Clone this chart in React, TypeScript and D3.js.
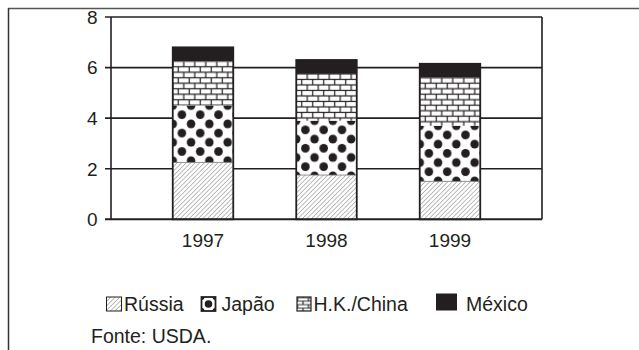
import React from "react";
import * as d3 from "d3";

const years = ["1997", "1998", "1999"];
const russia = [2.25, 1.75, 1.5];
const japao = [2.25, 2.15, 2.2];
const hkChina = [1.75, 1.85, 1.9];
const mexico = [0.55, 0.55, 0.55];
const seriesKeys = ["russia", "japao", "hk", "mexico"];
const seriesNames = ["Rússia", "Japão", "H.K./China", "México"];
const yTicks = [0, 2, 4, 6, 8];
const sourceNote = "Fonte: USDA.";

const INK = "#231f20";
const W = 639;
const H = 350;
const plot = { left: 111, right: 542, top: 17, bottom: 219.3 };
const FONT = "'Liberation Sans', Arial, Helvetica, sans-serif";

export default function App() {
  const rows = years.map((y, i) => ({
    year: y,
    russia: russia[i],
    japao: japao[i],
    hk: hkChina[i],
    mexico: mexico[i],
  }));
  const stack = d3.stack<any>().keys(seriesKeys);
  const layers = stack(rows);

  const x = d3
    .scaleBand<string>()
    .domain(years)
    .range([plot.left, plot.right])
    .paddingInner(0.51)
    .paddingOuter(0.5);
  const y = d3.scaleLinear().domain([0, 8]).range([plot.bottom, plot.top]);
  const bw = x.bandwidth();

  const dotW = 18.3;
  const dotH = 18.4;
  const brickW = 11;
  const brickH = 11;

  const fillFor = (key: string, i: number) => {
    if (key === "russia") return "url(#hatch)";
    if (key === "japao") return `url(#dots-${i})`;
    if (key === "hk") return `url(#bricks-${i})`;
    return INK;
  };

  const brickContent = (
    <>
      <rect width={brickW} height={brickH} fill={INK} />
      <rect x={0.6} y={0.6} width={9.8} height={4.3} fill="#fff" />
      <rect x={-4.9} y={6.1} width={9.8} height={4.3} fill="#fff" />
      <rect x={6.1} y={6.1} width={9.8} height={4.3} fill="#fff" />
    </>
  );

  const legendItems = [
    { swatchX: 106.5, textX: 124 },
    { swatchX: 201.5, textX: 221.5 },
    { swatchX: 297, textX: 313.5 },
    { swatchX: 436, textX: 466 },
  ];
  const legendBase = 310.5;

  return (
    <svg
      width={W}
      height={H}
      style={{ position: "absolute", left: 0, top: 0, background: "#fff" }}
      fontFamily={FONT}
    >
      <defs>
        <pattern
          id="hatch"
          width={3.2}
          height={3.2}
          patternUnits="userSpaceOnUse"
          patternTransform="rotate(45)"
        >
          <rect width={3.2} height={3.2} fill="#fff" />
          <line x1={0} y1={0} x2={0} y2={3.2} stroke="#6d6d6d" strokeWidth={0.9} />
        </pattern>
        {years.map((yr, i) => {
          const jTop = y(layers[1][i][1]);
          const hTop = y(layers[2][i][1]);
          return (
            <React.Fragment key={yr}>
              <pattern
                id={`dots-${i}`}
                x={x(yr)}
                y={jTop}
                width={dotW}
                height={dotH}
                patternUnits="userSpaceOnUse"
              >
                <rect width={dotW} height={dotH} fill="#fff" />
                <circle cx={0} cy={0} r={4.3} fill={INK} />
                <circle cx={dotW} cy={0} r={4.3} fill={INK} />
                <circle cx={0} cy={dotH} r={4.3} fill={INK} />
                <circle cx={dotW} cy={dotH} r={4.3} fill={INK} />
                <circle cx={dotW / 2} cy={dotH / 2} r={4.3} fill={INK} />
              </pattern>
              <pattern
                id={`bricks-${i}`}
                x={x(yr)}
                y={hTop}
                width={brickW}
                height={brickH}
                patternUnits="userSpaceOnUse"
              >
                {brickContent}
              </pattern>
            </React.Fragment>
          );
        })}
        <pattern
          id="bricks-legend"
          x={297.5}
          y={297.5}
          width={brickW}
          height={7}
          patternUnits="userSpaceOnUse"
        >
          <rect width={brickW} height={7} fill={INK} />
          <rect x={0.6} y={0.6} width={9.8} height={2.6} fill="#fff" />
          <rect x={-4.9} y={4.1} width={9.8} height={2.6} fill="#fff" />
          <rect x={6.1} y={4.1} width={9.8} height={2.6} fill="#fff" />
        </pattern>
        <clipPath id="japao-clip">
          <rect x={legendItems[1].swatchX} y={297} width={14} height={14} />
        </clipPath>
      </defs>

      {/* frame */}
      <line x1={8} x2={W} y1={8.5} y2={8.5} stroke="#555" strokeWidth={1.5} />
      <line x1={8.5} x2={8.5} y1={8} y2={H} stroke="#333" strokeWidth={1.5} />

      {/* gridlines */}
      {yTicks.map((t) => (
        <line
          key={t}
          x1={plot.left - 6}
          x2={plot.right}
          y1={y(t)}
          y2={y(t)}
          stroke={INK}
          strokeWidth={1.6}
        />
      ))}
      {/* axes */}
      <line x1={plot.left} x2={plot.left} y1={y(8)} y2={y(0)} stroke={INK} strokeWidth={1.6} />
      <line x1={plot.right} x2={plot.right} y1={y(8)} y2={y(0)} stroke={INK} strokeWidth={1.6} />

      {/* y tick labels */}
      {yTicks.map((t) => (
        <text
          key={t}
          x={97.5}
          y={y(t)}
          dy="0.36em"
          textAnchor="end"
          fontSize={19}
          fill={INK}
        >
          {t}
        </text>
      ))}

      {/* bars */}
      {years.map((yr, i) => (
        <g key={yr}>
          {layers.map((layer) => (
            <rect
              key={layer.key}
              x={x(yr)}
              y={y(layer[i][1])}
              width={bw}
              height={y(layer[i][0]) - y(layer[i][1])}
              fill={fillFor(layer.key as string, i)}
            />
          ))}
          <line
            x1={x(yr)}
            x2={(x(yr) as number) + bw}
            y1={y(layers[0][i][1])}
            y2={y(layers[0][i][1])}
            stroke="#777"
            strokeWidth={0.8}
          />
          <rect
            x={x(yr)}
            y={y(layers[3][i][1])}
            width={bw}
            height={y(0) - y(layers[3][i][1])}
            fill="none"
            stroke={INK}
            strokeWidth={1.8}
          />
        </g>
      ))}
      {/* baseline */}
      <line x1={plot.left - 6} x2={plot.right} y1={y(0)} y2={y(0)} stroke={INK} strokeWidth={1.8} />

      {/* x labels */}
      {years.map((yr) => (
        <text
          key={yr}
          x={(x(yr) as number) + bw / 2}
          y={246.5}
          textAnchor="middle"
          fontSize={19}
          fill={INK}
        >
          {yr}
        </text>
      ))}

      {/* legend */}
      <rect
        x={legendItems[0].swatchX}
        y={297}
        width={15}
        height={14}
        fill="url(#hatch)"
        stroke={INK}
        strokeWidth={1}
      />
      <g>
        <rect
          x={legendItems[1].swatchX}
          y={297}
          width={14}
          height={14}
          fill="#fff"
        />
        <g clipPath="url(#japao-clip)" fill={INK}>
          <circle cx={legendItems[1].swatchX + 7} cy={304} r={3.8} />
          <circle cx={legendItems[1].swatchX} cy={297} r={3} />
          <circle cx={legendItems[1].swatchX + 14} cy={297} r={3} />
          <circle cx={legendItems[1].swatchX} cy={311} r={3} />
          <circle cx={legendItems[1].swatchX + 14} cy={311} r={3} />
        </g>
        <rect
          x={legendItems[1].swatchX}
          y={297}
          width={14}
          height={14}
          fill="none"
          stroke={INK}
          strokeWidth={1.8}
        />
      </g>
      <rect
        x={legendItems[2].swatchX}
        y={297}
        width={14}
        height={14}
        fill="url(#bricks-legend)"
        stroke={INK}
        strokeWidth={1.2}
      />
      <rect x={legendItems[3].swatchX} y={293.5} width={21} height={17} fill={INK} />
      {seriesNames.map((name, i) => (
        <text
          key={name}
          x={legendItems[i].textX}
          y={legendBase}
          fontSize={19.5}
          fill={INK}
        >
          {name}
        </text>
      ))}

      <text x={91} y={343} fontSize={19.5} fill={INK}>
        {sourceNote}
      </text>
    </svg>
  );
}
